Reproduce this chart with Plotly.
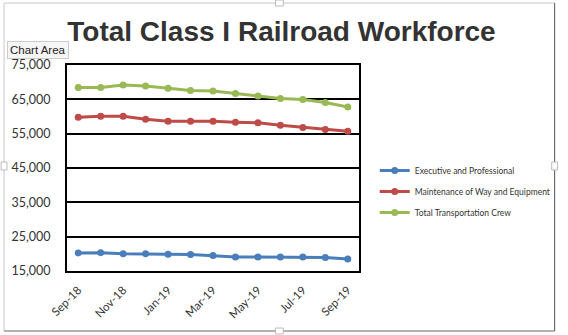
import plotly.graph_objects as go

# Monthly headcounts, Class I railroads
months = ["Sep-18", "Oct-18", "Nov-18", "Dec-18", "Jan-19", "Feb-19", "Mar-19",
          "Apr-19", "May-19", "Jun-19", "Jul-19", "Aug-19", "Sep-19"]
exec_prof = [20250, 20350, 20050, 20050, 19900, 19800, 19500,
             19100, 19100, 19100, 19100, 18900, 18500]
maint_way = [59800, 60100, 60100, 59200, 58650, 58650, 58650,
             58350, 58150, 57450, 56800, 56200, 55700]
transport_crew = [68450, 68450, 69150, 68850, 68200, 67600, 67400,
                  66700, 65950, 65250, 64950, 64100, 62750]
y_ticks = [15000, 25000, 35000, 45000, 55000, 65000, 75000]

series = [
    ("Executive and Professional", exec_prof, "#4A7EBB"),
    ("Maintenance of Way and Equipment", maint_way, "#BE4B48"),
    ("Total Transportation Crew", transport_crew, "#98B954"),
]

W, H = 568, 335
ML, MR, MT, MB = 67, 204, 65, 64
PW, PH = W - ML - MR, H - MT - MB


def px(x):
    return (x - ML) / PW


def py(y):
    return (H - MB - y) / PH


idx = list(range(len(months)))

fig = go.Figure()
for i, (name, vals, color) in enumerate(series):
    fig.add_trace(go.Scatter(
        x=idx, y=vals, name=name, mode="lines+markers",
        line=dict(color=color, width=3),
        marker=dict(color=color, size=7),
        legendgroup=f"g{i}",
    ))

tick_font = dict(family="Lato, 'Liberation Sans', Arial, sans-serif", size=12.5, color="#333333")

fig.update_layout(
    width=W, height=H,
    margin=dict(l=ML, r=MR, t=MT, b=MB),
    paper_bgcolor="white", plot_bgcolor="white",
    title=dict(
        text="<b>Total Class I Railroad Workforce</b>",
        font=dict(family="'Liberation Sans', Arial, sans-serif", size=28, color="#333333"),
        x=281.5 / W, xref="container", xanchor="center",
        y=1 - 31 / H, yref="container", yanchor="middle",
    ),
    xaxis=dict(
        range=[-0.5, len(months) - 0.5],
        tickvals=idx[::2], ticktext=months[::2],
        tickangle=-45, ticks="", showgrid=False, zeroline=False,
        showline=True, mirror=True, linecolor="black", linewidth=2,
        tickfont=dict(family=tick_font["family"], size=11.5, color="#333333"),
        ticklabelstandoff=6,
    ),
    xaxis2=dict(
        overlaying="x", anchor="y", side="bottom",
        range=[-0.5, len(months) - 0.5],
        tickvals=[v - 0.5 for v in idx[::2]],
        ticks="outside", ticklen=4, tickwidth=2, tickcolor="black",
        showticklabels=False, showgrid=False, zeroline=False, showline=False,
    ),
    yaxis=dict(
        range=[15000, 75000], tickvals=y_ticks, tickformat=",d",
        showgrid=True, gridcolor="black", gridwidth=2,
        showline=True, mirror=True, linecolor="black", linewidth=2,
        zeroline=False, ticks="", tickfont=tick_font,
        ticklabelstandoff=12,
    ),
    legend=dict(
        x=px(380), y=py(156), xanchor="left", yanchor="top",
        traceorder="grouped", tracegroupgap=2,
        font=dict(family="Lato, 'Liberation Sans', Arial, sans-serif", size=8.5, color="#333333"),
        bgcolor="rgba(0,0,0,0)",
    ),
    showlegend=True,
)

# Chart-area frame and its selection handles
frame = [
    (3, 3, 563, 3, "#c8c8c8"),
    (3, 3, 3, 331, "#c8c8c8"),
    (3, 331, 563, 331, "#666666"),
    (563, 3, 563, 331, "#555555"),
]
for x0, y0, x1, y1, c in frame:
    fig.add_shape(type="line", xref="paper", yref="paper",
                  x0=px(x0), y0=py(y0), x1=px(x1), y1=py(y1),
                  line=dict(color=c, width=1))

handles = [(279, 0, 287, 6), (0, 162, 6, 170), (560, 162, 566, 170), (279, 328, 287, 334)]
for x0, y0, x1, y1 in handles:
    fig.add_shape(type="rect", xref="paper", yref="paper",
                  x0=px(x0), y0=py(y0), x1=px(x1), y1=py(y1),
                  fillcolor="white", line=dict(color="#bbbbbb", width=1))

fig.add_annotation(
    text="Chart Area", xref="paper", yref="paper",
    x=px(6), y=py(41), xanchor="left", yanchor="top", showarrow=False,
    font=dict(family="'Liberation Sans', Arial, sans-serif", size=11.5, color="#222222"),
    bgcolor="#f6f6f6", bordercolor="#cccccc", borderwidth=1, borderpad=2,
)

fig.write_html("out.html")
